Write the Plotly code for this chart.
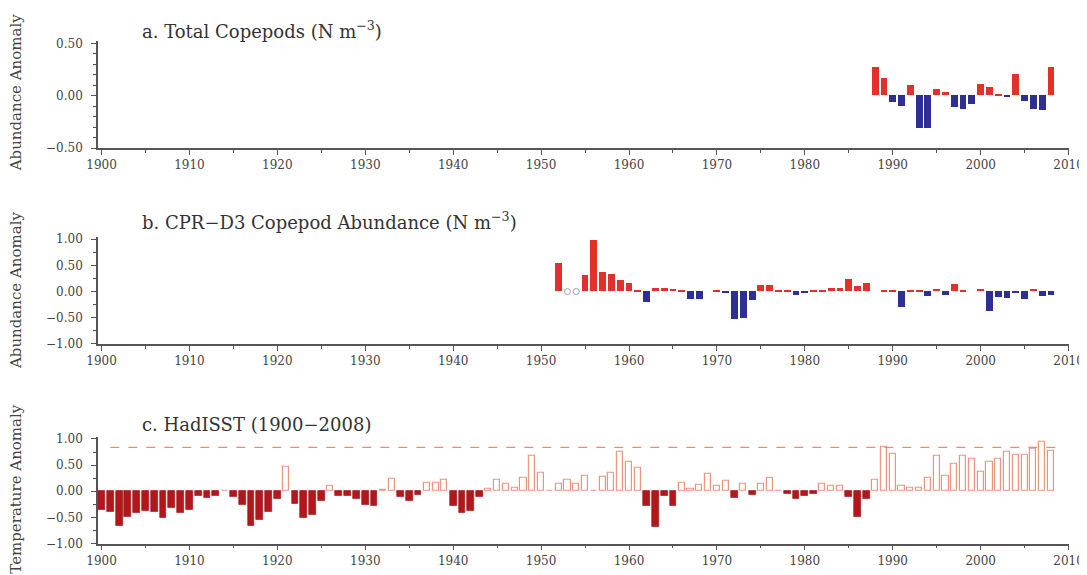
import plotly.graph_objects as go
from plotly.subplots import make_subplots

# a. Total Copepods anomaly
years_a = list(range(1988, 2009))
copepods_a = [0.27, 0.17, -0.06, -0.10, 0.10, -0.31, -0.31, 0.06, 0.03, -0.11,
              -0.13, -0.08, 0.11, 0.08, 0.01, -0.01, 0.20, -0.05, -0.13, -0.14, 0.27]

# b. CPR-D3 copepod abundance anomaly (None = no sample)
years_b = list(range(1952, 2009))
copepods_b = [0.55, None, None, 0.31, 0.98, 0.38, 0.34, 0.21, 0.16, 0.02,
              -0.21, 0.07, 0.06, 0.04, 0.03, -0.14, -0.14, 0.0, 0.02, -0.03,
              -0.53, -0.51, -0.17, 0.12, 0.12, 0.03, 0.02, -0.06, -0.02, 0.01,
              0.01, 0.06, 0.06, 0.23, 0.10, 0.16, 0.0, 0.02, 0.01, -0.29,
              0.03, 0.02, -0.08, 0.05, -0.07, 0.15, 0.01, 0.0, 0.04, -0.38,
              -0.11, -0.12, -0.04, -0.14, 0.05, -0.08, -0.07]

# c. HadISST anomaly 1900-2008
years_c = list(range(1900, 2009))
sst_c = [-0.36, -0.40, -0.66, -0.49, -0.42, -0.37, -0.40, -0.51, -0.31, -0.42,
         -0.36, -0.08, -0.13, -0.08, 0.01, -0.10, -0.26, -0.66, -0.55, -0.40,
         -0.15, 0.46, -0.24, -0.50, -0.45, -0.18, 0.11, -0.08, -0.08, -0.15,
         -0.26, -0.28, 0.02, 0.24, -0.10, -0.19, -0.06, 0.17, 0.17, 0.22,
         -0.28, -0.42, -0.38, -0.10, 0.04, 0.22, 0.14, 0.06, 0.26, 0.67,
         0.35, 0.01, 0.14, 0.22, 0.14, 0.30, 0.01, 0.27, 0.35, 0.75,
         0.56, 0.44, -0.28, -0.68, -0.08, -0.28, 0.17, 0.05, 0.13, 0.33,
         0.11, 0.19, -0.13, 0.14, -0.06, 0.15, 0.26, 0.01, -0.05, -0.15,
         -0.08, -0.05, 0.14, 0.11, 0.11, -0.10, -0.49, -0.15, 0.21, 0.85,
         0.72, 0.11, 0.06, 0.06, 0.26, 0.67, 0.30, 0.53, 0.67, 0.62,
         0.38, 0.56, 0.62, 0.75, 0.69, 0.69, 0.82, 0.94, 0.78]
ref_x = [1901, 2009.3]
ref_level = 0.84

RED = '#e3302b'
BLUE = '#2d2f92'
DARK_RED = '#b3171c'
PALE_RED = '#eb9580'
AXIS = '#555555'
FONT = 'DejaVu Serif'

fig = make_subplots(rows=3, cols=1)

fig.add_trace(go.Bar(x=years_a, y=copepods_a, width=0.78,
                     marker=dict(color=[RED if v >= 0 else BLUE for v in copepods_a], line_width=0)),
              row=1, col=1)

b_x = [x for x, v in zip(years_b, copepods_b) if v is not None]
b_y = [v for v in copepods_b if v is not None]
fig.add_trace(go.Bar(x=b_x, y=b_y, width=0.78,
                     marker=dict(color=[RED if v >= 0 else BLUE for v in b_y], line_width=0)),
              row=2, col=1)
missing = [x for x, v in zip(years_b, copepods_b) if v is None]
fig.add_trace(go.Scatter(x=missing, y=[0] * len(missing), mode='markers',
                         marker=dict(symbol='circle-open', size=6, color='#a0a0a0', line_width=1)),
              row=2, col=1)

neg_x = [x for x, v in zip(years_c, sst_c) if v < 0]
neg_y = [v for v in sst_c if v < 0]
pos_x = [x for x, v in zip(years_c, sst_c) if v >= 0]
pos_y = [v for v in sst_c if v >= 0]
fig.add_trace(go.Bar(x=neg_x, y=neg_y, width=0.78,
                     marker=dict(color=DARK_RED, line=dict(color='#931014', width=0.6))),
              row=3, col=1)
fig.add_trace(go.Bar(x=pos_x, y=pos_y, width=0.7,
                     marker=dict(color='white', line=dict(color=PALE_RED, width=1.2))),
              row=3, col=1)
fig.add_trace(go.Scatter(x=ref_x, y=[ref_level] * 2, mode='lines',
                         line=dict(color='#ef8a78', width=1.3, dash='dash')),
              row=3, col=1)

xaxis_style = dict(range=[1899.6, 2010.05], tickmode='linear', tick0=1900, dtick=10,
                   ticks='outside', ticklen=5, tickwidth=1, tickcolor=AXIS,
                   minor=dict(dtick=5, ticklen=3, tickcolor=AXIS, ticks='outside'),
                   showline=True, linecolor=AXIS, linewidth=1.6, showgrid=False, zeroline=False,
                   tickfont=dict(family=FONT, size=12, color='#444444'))
yaxis_style = dict(ticks='outside', ticklen=5, tickwidth=1, tickcolor=AXIS,
                   showline=True, linecolor=AXIS, linewidth=1.6, showgrid=False, zeroline=False,
                   ticklabelstandoff=6,
                   tickfont=dict(family=FONT, size=12, color='#444444'), tickformat='.2f')

# page body adds an 8px margin, so the figure is drawn 8px smaller and offset
OFF = 8
W = 1087.0 - OFF
H = 575.0 - OFF
L, R = 98 - OFF, 18


def ydom(bottom_px, top_px):
    return [(H - (bottom_px - OFF)) / H, (H - (top_px - OFF)) / H]


fig.update_xaxes(**xaxis_style)
fig.update_yaxes(**yaxis_style)
fig.update_yaxes(range=[-0.5, 0.52], tickvals=[-0.5, 0, 0.5],
                 minor=dict(dtick=0.1, ticklen=3, tickcolor=AXIS, ticks='outside'),
                 domain=ydom(146, 37), row=1, col=1)
fig.update_yaxes(range=[-1.0, 1.04], tickvals=[-1, -0.5, 0, 0.5, 1],
                 minor=dict(dtick=0.25, ticklen=3, tickcolor=AXIS, ticks='outside'),
                 domain=ydom(346, 237), row=2, col=1)
fig.update_yaxes(range=[-1.0, 1.04], tickvals=[-1, -0.5, 0, 0.5, 1],
                 minor=dict(dtick=0.25, ticklen=3, tickcolor=AXIS, ticks='outside'),
                 domain=ydom(550, 441), row=3, col=1)

titles = ['a. Total Copepods (N m<sup>−3</sup>)',
          'b. CPR−D3 Copepod Abundance (N m<sup>−3</sup>)',
          'c. HadISST (1900−2008)']
title_y = [25, 221, 428]
ytitles = ['Abundance Anomaly', 'Abundance Anomaly', 'Temperature Anomaly']
ytitle_y = [90, 292, 494]

annotations = []
for t, ty in zip(titles, title_y):
    annotations.append(dict(text=t, xref='paper', yref='paper', x=(140 - OFF - L) / (W - L - R),
                            y=1 - (ty - OFF) / H, xanchor='left', yanchor='middle', showarrow=False,
                            font=dict(family=FONT, size=18, color='#333333')))
for t, ty in zip(ytitles, ytitle_y):
    annotations.append(dict(text=t, xref='paper', yref='paper', x=(16 - OFF - L) / (W - L - R),
                            y=1 - (ty - OFF) / H, xanchor='center', yanchor='middle', showarrow=False,
                            textangle=-90, font=dict(family=FONT, size=15, color='#444444')))

fig.update_layout(width=W, height=H, margin=dict(l=L, r=R, t=0, b=0),
                  plot_bgcolor='white', paper_bgcolor='white', showlegend=False,
                  barmode='overlay', bargap=0, annotations=annotations)

fig.write_html("out.html")
